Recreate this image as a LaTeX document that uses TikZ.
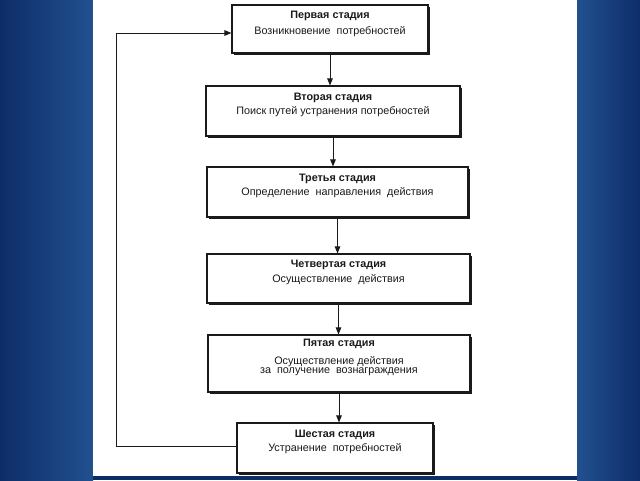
\documentclass[tikz,border=0pt]{standalone}
\usepackage{fontspec}
\setmainfont{Liberation Sans}
\usetikzlibrary{arrows.meta,shadows}
\definecolor{bgdark}{HTML}{0D2D68}
\definecolor{bglight}{HTML}{22508F}
\definecolor{ink}{HTML}{1A1A1A}
\tikzset{
  stagebox/.style={draw=ink, line width=1.1pt, fill=white, inner sep=0pt,
    drop shadow={shadow xshift=1.8pt, shadow yshift=-1.8pt, fill=ink, opacity=1}},
  stagetext/.style={align=center, text=ink, font=\fontsize{10.8}{12.5}\selectfont, inner sep=0pt},
  link/.style={draw=ink, line width=1pt, -{Triangle[length=7pt,width=5.5pt]}}
}
\begin{document}
\begin{tikzpicture}[x=1pt,y=-1pt]
\useasboundingbox (0,0) rectangle (640,480);
\shade[left color=bgdark, right color=bglight] (0,0) rectangle (93,480);
\shade[left color=bglight, right color=bgdark] (577,0) rectangle (640,480);
\fill[bgdark] (93,476) rectangle (577,480);
\fill[white] (93,0) rectangle (577,476);

\node[stagebox, minimum width=196pt, minimum height=48pt] (s1) at (330,29) {};
\node[stagebox, minimum width=254pt, minimum height=50pt] (s2) at (333,111) {};
\node[stagebox, minimum width=261pt, minimum height=50pt] (s3) at (337.5,192) {};
\node[stagebox, minimum width=263pt, minimum height=49pt] (s4) at (338.5,278.5) {};
\node[stagebox, minimum width=262pt, minimum height=57pt] (s5) at (339,363.5) {};
\node[stagebox, minimum width=196pt, minimum height=50pt] (s6) at (335,448) {};

\node[stagetext] (t1) at ([yshift=5pt]s1.center) {\textbf{Первая стадия}\\[3pt]Возникновение\ \ потребностей};
\node[stagetext] (t2) at ([yshift=6pt]s2.center) {\textbf{Вторая стадия}\\[2pt]Поиск путей устранения потребностей};
\node[stagetext] (t3) at ([yshift=6pt]s3.center) {\textbf{Третья стадия}\\[2pt]Определение\ \ направления\ \ действия};
\node[stagetext] (t4) at ([yshift=6pt]s4.center) {\textbf{Четвертая стадия}\\[2pt]Осуществление\ \ действия};
\node[stagetext] (t5) at ([yshift=6pt]s5.center) {\textbf{Пятая стадия}\\[5pt]Осуществление действия\\[-3pt]за\ \ получение\ \ вознаграждения};
\node[stagetext] (t6) at ([yshift=6pt]s6.center) {\textbf{Шестая стадия}\\[2pt]Устранение\ \ потребностей};

\draw[link] (s1) -- (s1 |- s2.north);
\draw[link] (s2) -- (s2 |- s3.north);
\draw[link] (s3) -- (s3 |- s4.north);
\draw[link] (s4) -- (s4 |- s5.north);
\draw[link] (s5) -- (s5 |- s6.north);
\draw[link] ([yshift=2pt]s6.west) -- ++(-120,0) |- ([yshift=-4pt]s1.west);
\end{tikzpicture}
\end{document}
